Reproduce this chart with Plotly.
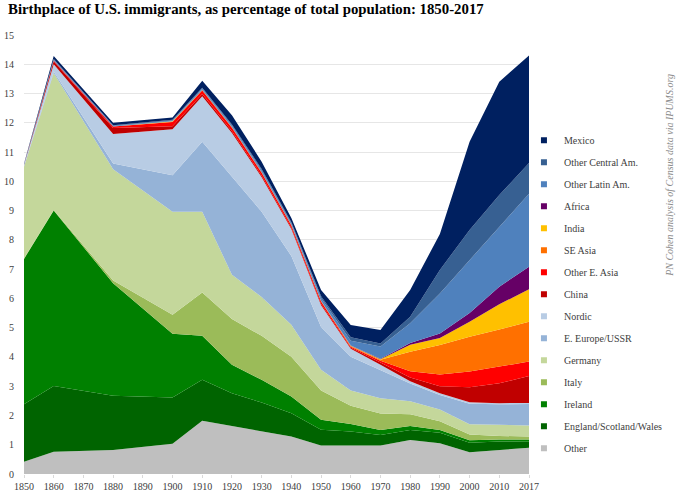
import plotly.graph_objects as go

# census years drawn; 1870 and 1890 have no data points
YEARS = ["1850", "1860", "1880", "1900", "1910", "1920", "1930", "1940",
         "1950", "1960", "1970", "1980", "1990", "2000", "2010", "2017"]
AXIS_YEARS = ["1850", "1860", "1870", "1880", "1890", "1900", "1910", "1920", "1930",
              "1940", "1950", "1960", "1970", "1980", "1990", "2000", "2010", "2017"]

# percent of total population, bottom of the stack first
other = [0.42, 0.76, 0.82, 1.03, 1.82, 1.64, 1.45, 1.28, 0.97, 0.97, 0.97, 1.16, 1.05, 0.74, 0.82, 0.90]
england_scotland_wales = [1.96, 2.25, 1.85, 1.58, 1.40, 1.12, 0.99, 0.80, 0.54, 0.48, 0.36, 0.34, 0.36, 0.33, 0.29, 0.20]
ireland = [4.97, 5.99, 3.85, 2.18, 1.50, 0.97, 0.78, 0.57, 0.34, 0.26, 0.17, 0.14, 0.09, 0.08, 0.07, 0.08]
italy = [0.02, 0.02, 0.09, 0.65, 1.48, 1.57, 1.50, 1.36, 1.00, 0.62, 0.57, 0.40, 0.30, 0.20, 0.12, 0.10]
germany = [3.13, 4.68, 3.80, 3.52, 2.76, 1.51, 1.33, 1.09, 0.71, 0.52, 0.52, 0.45, 0.40, 0.35, 0.38, 0.38]
e_europe = [0.02, 0.05, 0.20, 1.25, 2.39, 3.35, 2.91, 2.35, 1.46, 1.16, 0.96, 0.60, 0.50, 0.70, 0.70, 0.73]
nordic = [0.04, 0.25, 1.01, 1.57, 1.56, 1.49, 1.18, 0.92, 0.75, 0.27, 0.18, 0.08, 0.06, 0.05, 0.04, 0.04]
china = [0.01, 0.10, 0.20, 0.10, 0.07, 0.06, 0.05, 0.04, 0.04, 0.03, 0.08, 0.13, 0.24, 0.51, 0.68, 0.92]
other_e_asia = [0.00, 0.03, 0.05, 0.15, 0.12, 0.12, 0.10, 0.08, 0.08, 0.04, 0.06, 0.21, 0.40, 0.54, 0.57, 0.49]
se_asia = [0.00, 0.00, 0.00, 0.01, 0.01, 0.01, 0.01, 0.01, 0.01, 0.02, 0.03, 0.67, 1.01, 1.19, 1.27, 1.36]
india = [0.00, 0.00, 0.00, 0.01, 0.01, 0.01, 0.01, 0.01, 0.01, 0.01, 0.02, 0.24, 0.24, 0.51, 0.86, 1.11]
africa = [0.00, 0.00, 0.00, 0.00, 0.01, 0.01, 0.01, 0.01, 0.01, 0.01, 0.02, 0.06, 0.15, 0.30, 0.60, 0.77]
other_latin = [0.01, 0.03, 0.03, 0.03, 0.04, 0.05, 0.06, 0.05, 0.09, 0.16, 0.42, 0.67, 1.37, 1.81, 2.05, 2.50]
other_central = [0.00, 0.02, 0.02, 0.02, 0.03, 0.03, 0.04, 0.03, 0.06, 0.12, 0.10, 0.22, 0.80, 1.03, 1.08, 1.05]
mexico = [0.02, 0.10, 0.08, 0.08, 0.24, 0.32, 0.25, 0.15, 0.22, 0.42, 0.46, 0.92, 1.23, 3.01, 3.87, 3.67]

SERIES = [
    ("Other", other, "#BFBFBF"),
    ("England/Scotland/Wales", england_scotland_wales, "#006400"),
    ("Ireland", ireland, "#008000"),
    ("Italy", italy, "#9BBB59"),
    ("Germany", germany, "#C4D79B"),
    ("E. Europe/USSR", e_europe, "#95B3D7"),
    ("Nordic", nordic, "#B8CCE4"),
    ("China", china, "#C00000"),
    ("Other E. Asia", other_e_asia, "#FF0000"),
    ("SE Asia", se_asia, "#FF7000"),
    ("India", india, "#FFC000"),
    ("Africa", africa, "#660066"),
    ("Other Latin Am.", other_latin, "#4F81BD"),
    ("Other Central Am.", other_central, "#376092"),
    ("Mexico", mexico, "#002060"),
]

SERIF = "Liberation Serif"

fig = go.Figure()

for name, vals, color in SERIES:
    fig.add_trace(go.Scatter(
        x=YEARS, y=vals, name=name,
        mode="lines", stackgroup="one",
        line=dict(width=0, color=color),
        fillcolor=color,
        showlegend=False,
    ))

# small square legend keys, top of the stack listed first
for name, vals, color in SERIES[::-1]:
    fig.add_trace(go.Scatter(
        x=[None], y=[None], name=name, mode="markers",
        marker=dict(symbol="square", size=6, color=color),
        legendgroup=name, showlegend=True,
    ))

fig.add_annotation(
    text="PN Cohen analysis of Census data via IPUMS.org",
    xref="paper", yref="paper", x=1.278, y=0.68,
    xanchor="center", yanchor="middle",
    textangle=-90, showarrow=False,
    font=dict(family=SERIF, size=10, color="#8C8C8C", style="italic"),
)

fig.update_layout(
    width=680, height=498,
    paper_bgcolor="white", plot_bgcolor="white",
    margin=dict(l=24, r=137, t=35, b=24),
    title=dict(
        text="<b>Birthplace of U.S. immigrants, as percentage of total population: 1850-2017</b>",
        x=0.0118, xanchor="left", xref="container",
        y=0.982, yanchor="middle", yref="container",
        font=dict(family=SERIF, size=14.8, color="#000000"),
    ),
    xaxis=dict(
        type="category", categoryorder="array", categoryarray=AXIS_YEARS,
        range=[0, 17], showgrid=False, zeroline=False, automargin=False,
        ticks="outside", ticklen=3, tickcolor="#D9D9D9",
        tickfont=dict(family=SERIF, size=10, color="#404040"),
    ),
    yaxis=dict(
        range=[0, 15], dtick=1, showgrid=True, gridcolor="#E6E6E6",
        zeroline=False, ticklabelstandoff=9, automargin=False,
        tickfont=dict(family=SERIF, size=10, color="#404040"),
    ),
    legend=dict(
        x=0.99, xanchor="left", y=0.793, yanchor="top",
        traceorder="grouped", tracegroupgap=3,
        font=dict(family=SERIF, size=10, color="#404040"),
        bgcolor="rgba(0,0,0,0)",
    ),
    hovermode=False,
)

# drop the page's default body margin so the figure fills the window
fig.write_html(
    "out.html",
    config={"displayModeBar": False},
    post_script="document.body.style.margin='0';",
)
